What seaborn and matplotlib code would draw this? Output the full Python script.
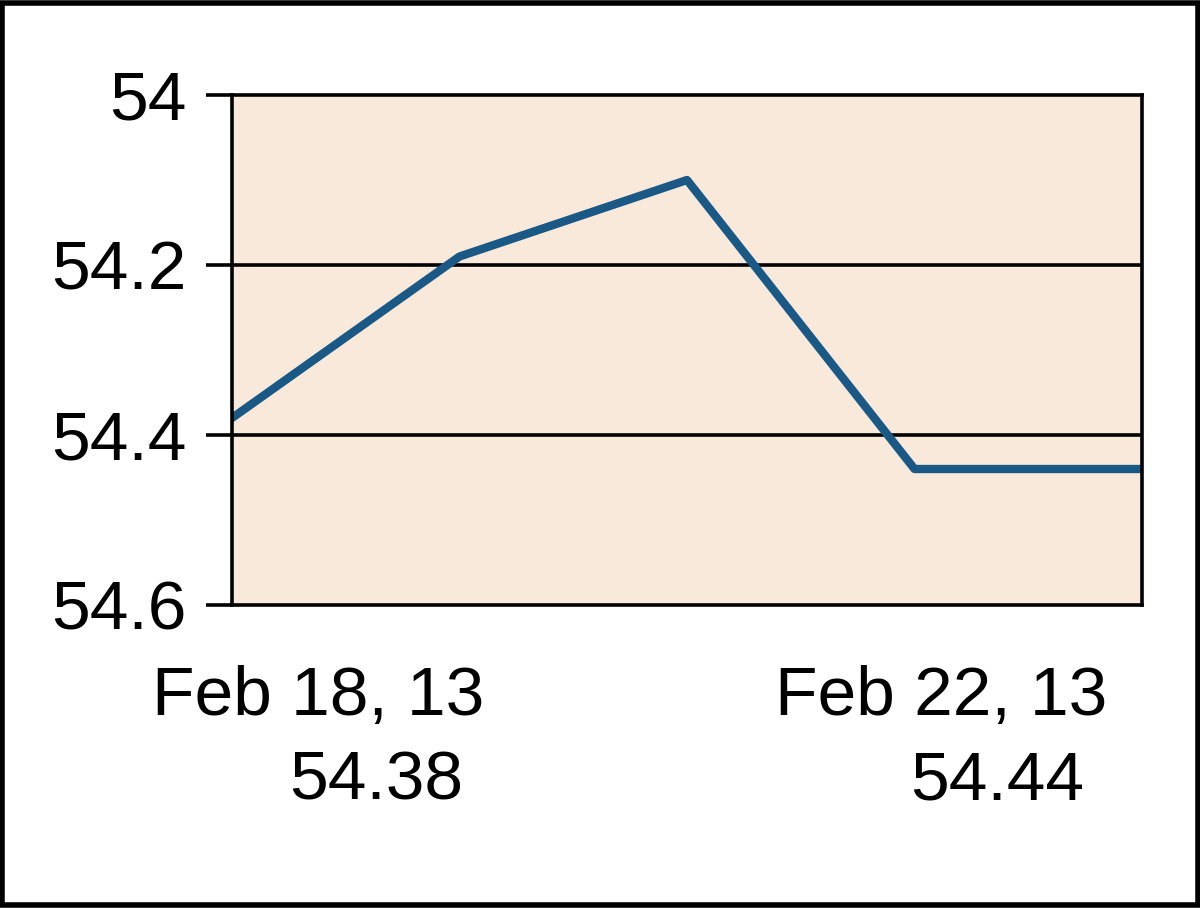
import matplotlib
matplotlib.use("Agg")
import matplotlib.pyplot as plt
import seaborn as sns
import pandas as pd

dates = ["Feb 18, 13", "Feb 19, 13", "Feb 20, 13", "Feb 21, 13", "Feb 22, 13"]
values = [54.38, 54.19, 54.10, 54.44, 54.44]
yticks = [54.0, 54.2, 54.4, 54.6]
ytick_labels = ["54", "54.2", "54.4", "54.6"]
first_label = ["Feb 18, 13", "54.38"]
last_label = ["Feb 22, 13", "54.44"]

sns.set_style("white")
plt.rcParams['font.family'] = ['Liberation Sans Narrow', 'Liberation Sans', 'DejaVu Sans']
plt.rcParams['text.color'] = 'black'
plt.rcParams['ytick.color'] = 'black'
plt.rcParams['ytick.labelcolor'] = 'black'

df = pd.DataFrame({"idx": range(len(dates)), "value": values})

fig = plt.figure(figsize=(12, 9.08), dpi=100)
fig.patch.set_facecolor("white")
ax = fig.add_axes([232/1200, 1-605/908, (1142-232)/1200, (605-95)/908])
ax.set_facecolor("#F9E9DB")

sns.lineplot(data=df, x="idx", y="value", ax=ax, color="#1A5886", linewidth=6)

ax.set_xlim(0, 4)
ax.set_ylim(54.6, 54.0)
ax.set_yticks(yticks)
ax.set_yticklabels(ytick_labels, fontsize=50, color="black")
ax.set_xticks([])
ax.set_xlabel("")
ax.set_ylabel("")
for y in yticks[1:-1]:
    ax.axhline(y, color="black", linewidth=2.6, zorder=1)
ax.tick_params(axis="y", length=19, width=2.6, color="black", pad=14, left=True)
for s in ax.spines.values():
    s.set_color("black")
    s.set_linewidth(2.6)

fs = 50
fig.text(318/1200, 1-697/908, first_label[0], ha="center", va="center", fontsize=fs, color="black")
fig.text(376/1200, 1-781/908, first_label[1], ha="center", va="center", fontsize=fs, color="black")
fig.text(941/1200, 1-697/908, last_label[0], ha="center", va="center", fontsize=fs, color="black")
fig.text(997/1200, 1-781/908, last_label[1], ha="center", va="center", fontsize=fs, color="black")

# outer border
border = plt.Rectangle((0.002, 0.003), 0.996, 0.994, transform=fig.transFigure,
                       fill=False, edgecolor="black", linewidth=4)
fig.add_artist(border)

fig.savefig("out.png", dpi=100, facecolor="white")
